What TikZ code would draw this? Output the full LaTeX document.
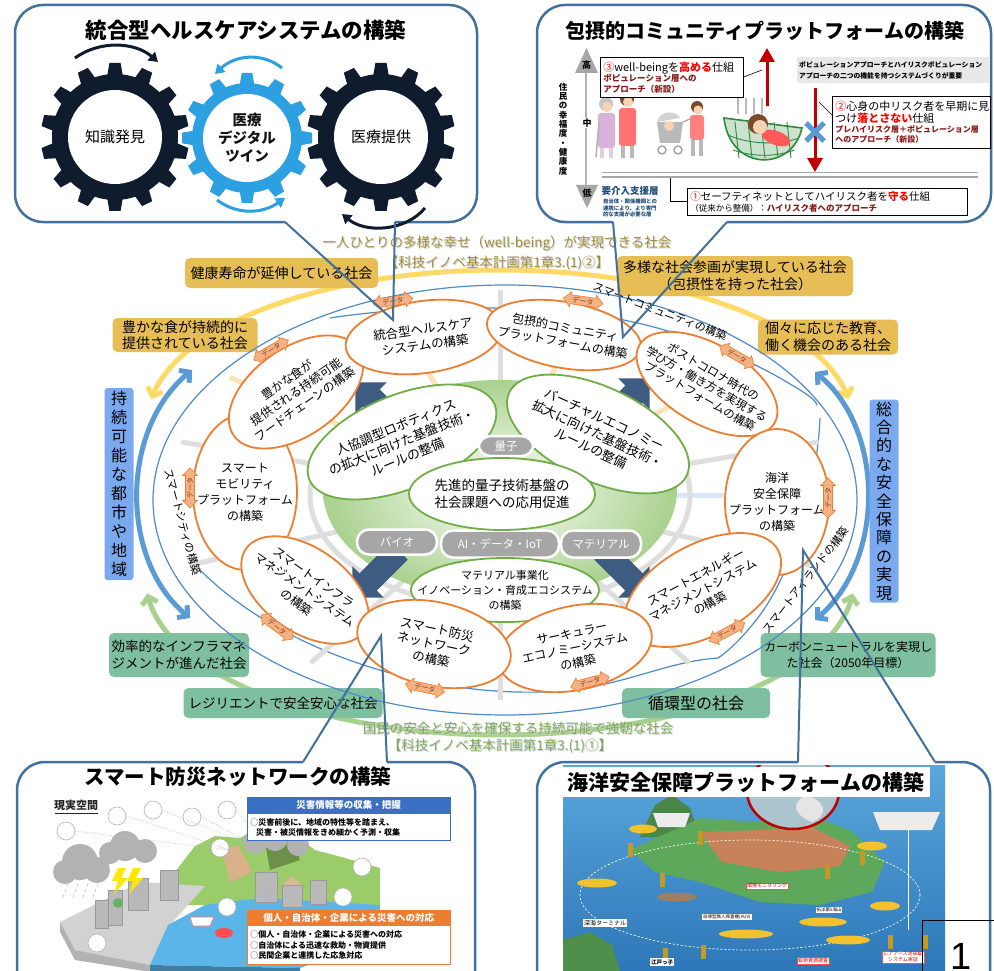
\documentclass[tikz,border=0pt]{standalone}
\usepackage{fontspec}
\setmainfont{Noto Sans CJK JP}
\newfontfamily\pagenumfont{Liberation Sans}
\usetikzlibrary{shapes.geometric,shapes.arrows,arrows.meta}

\definecolor{frameblue}{HTML}{41719C}
\definecolor{gearnavy}{HTML}{0F1C2E}
\definecolor{gearblue}{HTML}{2CA0E0}
\definecolor{arcyellow}{HTML}{FFD966}
\definecolor{arcgreen}{HTML}{A9D18E}
\definecolor{arcblue}{HTML}{5B9BD5}
\definecolor{labelyellow}{HTML}{E6BE55}
\definecolor{labelgreen}{HTML}{7DBF9E}
\definecolor{labelblue}{HTML}{7AA9F0}
\definecolor{thinblue}{HTML}{4F8BC9}
\definecolor{nodeorange}{HTML}{ED7D31}
\definecolor{nodegreen}{HTML}{70AD47}
\definecolor{tagfill}{HTML}{F4B183}
\definecolor{tagtext}{HTML}{843C0C}
\definecolor{chevblue}{HTML}{3E5C82}
\definecolor{pillgray}{HTML}{A6A6A6}
\definecolor{spokegray}{HTML}{DEDEDE}
\definecolor{spokebeige}{HTML}{FBE3BA}
\definecolor{spokeblue}{HTML}{DAE7FA}
\definecolor{olivetext}{HTML}{A08C3E}
\definecolor{greentext}{HTML}{7AA95A}
\definecolor{alertred}{HTML}{FF0000}
\definecolor{deepred}{HTML}{8B1A1A}
\definecolor{arrowred}{HTML}{C00000}
\definecolor{crossblue}{HTML}{5B9BD5}
\definecolor{supportblue}{HTML}{1F4E79}
\definecolor{skin}{HTML}{F6D3B5}
\definecolor{hair}{HTML}{7A4A2A}
\definecolor{netgreen}{HTML}{2E8B3E}
\definecolor{hillgreen}{HTML}{9ACD6A}
\definecolor{waterblue}{HTML}{5BB5E8}
\definecolor{oceantop}{HTML}{5AA7DC}
\definecolor{oceanbot}{HTML}{2D77B8}
\definecolor{islegreen}{HTML}{5DA85A}
\definecolor{islebrown}{HTML}{C8825A}
\definecolor{subyellow}{HTML}{F2C12E}
\definecolor{infoblue}{HTML}{3A6FC4}

\newcommand{\fsz}[2]{\fontsize{#1}{#2}\selectfont}

% gear: centre x, centre y, teeth, root radius, tip radius, tooth half width, colour
\newcommand{\drawcog}[7]{%
  \fill[#7] (#1,#2) circle[radius=#4];
  \foreach \k in {1,...,#3}{%
    \pgfmathsetmacro{\cogang}{360/#3*\k}%
    \fill[#7, rotate around={\cogang:(#1,#2)}]
      ({#1-#6},{#2-#4+3}) -- ({#1-0.7*#6},{#2-#5}) -- ({#1+0.7*#6},{#2-#5}) -- ({#1+#6},{#2-#4+3}) -- cycle;
  }%
}

% rotated ellipse with its label: style, name, x, y, rx, ry, angle, font, text
\newcommand{\ovalnode}[9]{%
  \path[#1, rotate around={#7:(#3,#4)}] (#3,#4) ellipse [x radius=#5, y radius=#6];
  \node[rotate=#7, align=center, inner sep=0pt, font=#8] (#2) at (#3,#4) {#9};}

\begin{document}
\begin{tikzpicture}[x=1pt,y=-1pt,
  every node/.style={font=\fsz{13}{16}},
  lbl/.style={rounded corners=5pt, inner sep=0pt, align=center},
  ylbl/.style={lbl, fill=labelyellow},
  glbl/.style={lbl, fill=labelgreen},
  blbl/.style={lbl, fill=labelblue, rounded corners=3pt},
  onode/.style={fill=white, draw=nodeorange, line width=1.8pt},
  gnode/.style={fill=white, draw=nodegreen, line width=1.8pt},
  datatag/.style={shape=double arrow, fill=tagfill, draw=nodeorange, line width=0.6pt, inner sep=1pt, minimum height=40pt, double arrow head extend=3pt, font=\fsz{7}{8}, text=tagtext},
  chev/.style={shape=single arrow, fill=chevblue, inner sep=12pt, single arrow head extend=10pt, minimum height=66pt},
  pillnode/.style={rounded corners=12pt, fill=pillgray, draw=white, line width=2.5pt, text=white, inner sep=0pt, font=\fsz{11.5}{13}},
  calloutframe/.style={frameblue, line width=2.5pt, rounded corners=28pt},
  calloutptr/.style={frameblue, line width=2pt},
  bandtext/.style={font=\fsz{11}{13}},
  bigarc/.style={line width=5pt, {Straight Barb[length=7pt,width=16pt]}-{Straight Barb[length=7pt,width=16pt]}},
  infobox/.style={draw, line width=0.7pt, fill=white, anchor=north west, align=left, inner xsep=3pt, inner ysep=1.5pt},
  mapnote/.style={fill=white, draw=red!70, line width=0.4pt, inner sep=1pt, text=red!80!black, font=\fsz{5}{6}, align=center},
]
\useasboundingbox (0,0) rectangle (994,971);
\fill[white] (0,0) rectangle (994,971);

% ---------- society arcs ----------
\draw[arcyellow, bigarc] plot[smooth, domain=-172:-8, samples=60] ({500+352*cos(\x)},{420+150*sin(\x)});
\draw[arcgreen, bigarc] plot[smooth, domain=175:5, samples=60] ({500+354*cos(\x)},{580+155*sin(\x)});
\draw[arcblue, bigarc] (192,370) .. controls (120,430) and (120,560) .. (190,618);
\draw[arcblue, bigarc] (815,372) .. controls (885,430) and (885,560) .. (815,620);

% ---------- society labels ----------
\node[ylbl, minimum width=193pt, minimum height=30pt, font=\fsz{14}{17}] (lhealth) at (281.5,273) {健康寿命が延伸している社会};
\node[ylbl, minimum width=145pt, minimum height=34pt, font=\fsz{14}{16}] (lfood) at (185,335) {豊かな食が持続的に\\提供されている社会};
\node[ylbl, minimum width=236pt, minimum height=40pt, font=\fsz{14}{17}] (lsanka) at (735,276) {多様な社会参画が実現している社会\\（包摂性を持った社会）};
\node[ylbl, minimum width=140pt, minimum height=35pt, font=\fsz{14}{17}] (ledu) at (828,337) {個々に応じた教育、\\働く機会のある社会};
\node[blbl, minimum width=29pt, minimum height=192pt, font=\fsz{16}{19}] (lcity) at (119,484) {持\\続\\可\\能\\な\\都\\市\\や\\地\\域};
\node[blbl, minimum width=29pt, minimum height=203pt, font=\fsz{16}{18.4}] (lsec) at (884,501) {総\\合\\的\\な\\安\\全\\保\\障\\の\\実\\現};
\node[glbl, minimum width=140pt, minimum height=44pt, font=\fsz{13.5}{17}] (linfra) at (179,655) {効率的なインフラマネ\\ジメントが進んだ社会};
\node[glbl, minimum width=199pt, minimum height=30pt, font=\fsz{13.5}{16}] (lresil) at (283,703) {レジリエントで安全安心な社会};
\node[glbl, minimum width=148pt, minimum height=30pt, font=\fsz{16}{18}] (lcirc) at (696,703) {循環型の社会};
\node[glbl, minimum width=175pt, minimum height=44pt, font=\fsz{12}{16}] (lcarbon) at (848,655) {カーボンニュートラルを実現し\\た社会（2050年目標）};

% ---------- headline texts ----------
\node[text=gray!35, font=\fsz{13.5}{16}] (wellShadow) at (498,244) {一人ひとりの多様な幸せ（well-being）が実現できる社会};
\node[text=olivetext, font=\fsz{13.5}{16}] (wellText) at (497,243) {一人ひとりの多様な幸せ（well-being）が実現できる社会};
\node[text=gray!35, font=\fsz{13.5}{16}] (wellRefShadow) at (498,264) {【科技イノベ基本計画第1章3.(1)②】};
\node[text=olivetext, font=\fsz{13.5}{16}] (wellRef) at (497,263) {【科技イノベ基本計画第1章3.(1)②】};
\node[text=gray!35, font=\fsz{13.5}{16}] (safeShadow) at (519,729) {国民の安全と安心を確保する持続可能で強靭な社会};
\node[text=greentext, font=\fsz{13.5}{16}] (safeText) at (518,728) {国民の安全と安心を確保する持続可能で強靭な社会};
\node[text=gray!35, font=\fsz{13.5}{16}] (safeRefShadow) at (501,747) {【科技イノベ基本計画第1章3.(1)①】};
\node[text=greentext, font=\fsz{13.5}{16}] (safeRef) at (500,746) {【科技イノベ基本計画第1章3.(1)①】};

% ---------- smart community / city / island bands ----------
\draw[thinblue, line width=1.2pt] (505,500) ellipse [x radius=352, y radius=215];
\draw[thinblue, line width=1.2pt] (330,318) .. controls (420,304) and (540,305) .. (613,318) .. controls (670,328) and (730,350) .. (780,378) .. controls (800,390) and (815,398) .. (817,405);
\draw[thinblue, line width=1.2pt] (820,418) .. controls (818,470) and (800,560) .. (760,615) .. controls (745,635) and (730,650) .. (718,658);
\draw[thinblue, line width=1.2pt] (718,658) .. controls (660,662) and (620,690) .. (540,692) .. controls (420,695) and (280,650) .. (200,570);

% ---------- spokes and ring ----------
\foreach \a/\c in {90/spokegray, 15/spokegray, 0/spokeblue, -20/spokegray, -55/spokegray, -90/spokegray, -125/spokegray, -160/spokegray, 165/spokegray, 40/spokebeige, 75/spokebeige, 110/spokebeige, 145/spokebeige}
  \draw[\c, line width=5pt] (500,495) -- ({500+330*cos(\a)},{495-205*sin(\a)});
\draw[spokegray, line width=5pt] (500,495) ellipse [x radius=190, y radius=112];
\shade[inner color=white, outer color=arcgreen] (500,490) ellipse [x radius=177, y radius=110];

% ---------- cycle arrows ----------
\node[chev, rotate=135] (chevUL) at (383,410) {};
\node[chev, rotate=45] (chevUR) at (622,406) {};
\node[chev, rotate=-135] (chevLL) at (380,570) {};
\node[chev, rotate=-45] (chevLR) at (622,570) {};

% ---------- technology pills ----------
\node[pillnode, minimum width=80pt, minimum height=25pt] (pBio) at (397,542) {バイオ};
\node[pillnode, minimum width=118pt, minimum height=27pt] (pAI) at (500,544) {AI・データ・IoT};
\node[pillnode, minimum width=80pt, minimum height=27pt] (pMat) at (601,544) {マテリアル};

% ---------- foundation technologies ----------
\ovalnode{gnode}{gRobot}{402}{442}{100}{47}{22}{\fsz{13}{16}}{人協調型ロボティクス\\の拡大に向けた基盤技術・\\ルールの整備}
\ovalnode{gnode}{gVirtual}{598}{434}{98}{47}{-25}{\fsz{13}{16}}{バーチャルエコノミー\\拡大に向けた基盤技術・\\ルールの整備}
\node[pillnode, minimum width=55pt, minimum height=20pt] (pQuantum) at (506,446) {量子};
\ovalnode{gnode}{gQuantum}{502}{494}{93}{36}{0}{\fsz{13.5}{17}}{先進的量子技術基盤の\\社会課題への応用促進}
\ovalnode{gnode}{gMaterial}{505}{590}{94}{32}{0}{\fsz{11}{15}}{マテリアル事業化\\イノベーション・育成エコシステム\\の構築}

% ---------- platforms ----------
\ovalnode{onode}{oMobility}{245}{492}{52}{78}{0}{\fsz{12}{16}}{スマート\\モビリティ\\プラットフォーム\\の構築}
\ovalnode{onode}{oInfra}{305}{590}{72}{42}{-35}{\fsz{12}{15}}{スマートインフラ\\マネジメントシステム\\の構築}
\ovalnode{onode}{oFood}{296}{392}{76}{44}{35}{\fsz{12}{15}}{豊かな食が\\提供される持続可能\\フードチェーンの構築}
\ovalnode{onode}{oHealth}{424}{337}{79}{36}{8}{\fsz{12.5}{16}}{統合型ヘルスケア\\システムの構築}
\ovalnode{onode}{oInclusive}{564}{335}{78}{33}{-10}{\fsz{12}{15}}{包摂的コミュニティ\\プラットフォームの構築}
\ovalnode{onode}{oPostCovid}{707}{384}{78}{40}{-30}{\fsz{11.5}{14}}{ポストコロナ時代の\\学び方・働き方を実現する\\プラットフォームの構築}
\ovalnode{onode}{oOcean}{777}{502}{52}{73}{0}{\fsz{12}{16}}{海洋\\安全保障\\プラットフォーム\\の構築}
\ovalnode{onode}{oEnergy}{703}{590}{85}{46}{28}{\fsz{12}{15}}{スマートエネルギー\\マネジメントシステム\\の構築}
\ovalnode{onode}{oCircular}{575}{648}{78}{42}{12}{\fsz{12}{15}}{サーキュラー\\エコノミーシステム\\の構築}
\ovalnode{onode}{oDisaster}{434}{644}{78}{42}{-12}{\fsz{12.5}{15}}{スマート防災\\ネットワーク\\の構築}

% ---------- data exchange tags ----------
\node[datatag, rotate=8] (t1) at (393,301) {データ};
\node[datatag, rotate=-8] (t2) at (583,301) {データ};
\node[datatag, rotate=30] (t3) at (271,350) {データ};
\node[datatag, rotate=90] (t4) at (190,488) {データ};
\node[datatag, rotate=-30] (t5) at (737,356) {データ};
\node[datatag, rotate=90] (t6) at (828,498) {データ};
\node[datatag, rotate=-37] (t7) at (277,627) {データ};
\node[datatag, rotate=-12] (t8) at (425,688) {データ};
\node[datatag, rotate=15] (t9) at (590,682) {データ};
\node[datatag, rotate=28] (t10) at (727,632) {データ};

% ---------- band captions ----------
\node[bandtext, rotate=-21] (bandComm) at (660,311) {スマートコミュニティの構築};
\node[bandtext, rotate=-75] (bandCity) at (183,522) {スマートシティの構築};
\node[bandtext, rotate=52] (bandIsle) at (806,580) {スマートアイランドの構築};

% =====================================================
% callout: integrated healthcare
% =====================================================
\fill[white, rounded corners=28pt] (15,5) rectangle (477,222);
\draw[calloutframe] (395,222) -- (477,222) -- (477,5) -- (15,5) -- (15,222) -- (285,222);
\node[font=\fsz{21.5}{24}\bfseries] (hcTitle) at (246,30) {統合型ヘルスケアシステムの構築};
\drawcog{115}{137}{14}{63}{74}{8}{gearnavy}
\drawcog{381}{137}{14}{63}{74}{8}{gearnavy}
\drawcog{247}{138}{12}{55}{65}{7.5}{gearblue}
\fill[white] (115,137) circle[radius=47];
\fill[white] (381,137) circle[radius=47];
\fill[white] (247,138) circle[radius=44];
\node[font=\fsz{15}{18}] (gearKnow) at (115,137) {知識発見};
\node[align=center, font=\fsz{14.5}{18}\bfseries, text=gray!15!black] (gearTwin) at (247,138) {医療\\デジタル\\ツイン};
\node[font=\fsz{15}{18}] (gearCare) at (381,137) {医療提供};
\draw[gearnavy, line width=3pt, -{Triangle[length=9pt,width=11pt]}] (75,58) .. controls (100,40) and (135,42) .. (158,62);
\draw[gearblue, line width=3pt, -{Triangle[length=9pt,width=11pt]}] (282,68) .. controls (262,52) and (235,55) .. (215,74);
\draw[gearblue, line width=3pt, -{Triangle[length=9pt,width=11pt]}] (217,200) .. controls (237,215) and (262,214) .. (285,198);
\draw[gearnavy, line width=3pt, -{Triangle[length=9pt,width=11pt]}] (425,208) .. controls (405,232) and (365,233) .. (342,214);

% =====================================================
% callout: inclusive community platform
% =====================================================
\fill[white, rounded corners=28pt] (537,5) rectangle (991,222);
\draw[calloutframe] (727,222) -- (991,222) -- (991,5) -- (537,5) -- (537,222) -- (613,222);
\node[font=\fsz{20}{23}\bfseries] (icTitle) at (765,31) {包摂的コミュニティプラットフォームの構築};
% wellbeing axis
\draw[gray!60, line width=1.5pt] (586,73) -- (586,185);
\fill[pillgray] (575,73) -- (598,73) -- (586.5,48) -- cycle;
\fill[pillgray] (576,185) -- (598,185) -- (587,208) -- cycle;
\node[font=\fsz{9}{10}\bfseries] (axHigh) at (586.5,65) {高};
\node[font=\fsz{9}{10}\bfseries, fill=white, inner sep=1pt] (axMid) at (587,123) {中};
\node[font=\fsz{9}{10}\bfseries] (axLow) at (587,193) {低};
\node[font=\fsz{8.5}{9.3}\bfseries, align=center] (axTitle) at (563,129) {住\\民\\の\\幸\\福\\度\\・\\健\\康\\度};
% residents
\fill[gray!45] (606,104) circle[radius=7];
\fill[skin] (607,107) circle[radius=5];
\fill[violet!30, rounded corners=3pt] (598,113) rectangle (615,148);
\fill[violet!20] (600,148) rectangle (604,158);
\fill[violet!20] (609,148) rectangle (613,158);
\draw[gray!60, line width=1.5pt] (599,122) -- (596,157);
\fill[hair] (627,99) circle[radius=7];
\fill[skin] (628,102) circle[radius=5];
\fill[red!55, rounded corners=3pt] (619,108) rectangle (636,146);
\fill[gray!55] (621,146) rectangle (625,158);
\fill[gray!55] (630,146) rectangle (634,158);
\fill[gray!55] (657,122) -- (683,122) -- (680,143) -- (660,143) -- cycle;
\fill[gray!35] (657,122) .. controls (660,110) and (675,110) .. (680,118) -- cycle;
\fill[skin] (669,126) circle[radius=5];
\draw[gray!70, line width=1.5pt] (662,150) circle[radius=4] (678,150) circle[radius=4];
\draw[gray!70, line width=1.2pt] (683,122) -- (692,118);
\fill[hair] (697,107) circle[radius=6];
\fill[skin] (698,110) circle[radius=4.5];
\fill[red!50, rounded corners=3pt] (690,115) rectangle (704,140);
\fill[gray!55] (691,140) rectangle (695,156);
\fill[gray!55] (699,140) rectangle (703,156);
% safety net
\foreach \x in {738,746,754,762}
  \draw[gray!55, line width=1.2pt] (\x,98) -- (\x,114);
\draw[netgreen, line width=1.6pt, fill=netgreen!25] (724,118) .. controls (730,172) and (792,172) .. (802,128) -- cycle;
\foreach \x in {735,748,761,774,787}
  \draw[netgreen, line width=0.9pt] (\x,122) -- (\x+4,158);
\draw[netgreen, line width=0.9pt] (728,135) .. controls (750,145) and (780,145) .. (799,138);
\draw[netgreen, line width=0.9pt] (733,150) .. controls (755,158) and (780,156) .. (794,150);
\fill[red!65, rotate around={-20:(776,138)}] (776,138) ellipse [x radius=15, y radius=7];
\fill[hair] (758,124) circle[radius=10];
\fill[skin] (760,127) circle[radius=7];
% approaches
\node[infobox, minimum width=143pt, minimum height=40pt, text width=137pt, font=\fsz{8.5}{10.5}] (boxWell) at (600,57)
  {{\fsz{11}{13}\textcolor{alertred}{③}well-beingを\textcolor{alertred}{\bfseries 高める}仕組}\\{\bfseries\color{deepred}ポピュレーション層への}\\{\bfseries\color{deepred}アプローチ（新設）}};
\draw[arrowred, line width=3pt, -{Triangle[length=14pt,width=15pt]}] (767,106) -- (767,48);
\coordinate (upArrowSide) at (762,70);
\draw[line width=0.6pt] (boxWell.east |- 0,77) -- (upArrowSide);
\node[fill=gray!18, anchor=north west, minimum width=193pt, minimum height=26pt, text width=189pt, align=left, inner sep=2pt, font=\fsz{6.8}{11}\bfseries] (boxNote) at (797,57)
  {ポピュレーションアプローチとハイリスクポピュレーション\\アプローチの二つの機能を持つシステムづくりが重要};
\draw[arrowred, line width=3pt, -{Triangle[length=14pt,width=15pt]}] (815,88) -- (815,172);
\draw[crossblue, line width=5pt] (806,123) -- (824,141) (806,141) -- (824,123);
\node[infobox, minimum width=158pt, minimum height=52pt, text width=152pt, font=\fsz{8}{10}] (boxMid) at (832,96)
  {{\fsz{11}{13}\textcolor{alertred}{②}心身の中リスク者を早期に見}\\{\fsz{11}{13}つけ\textcolor{alertred}{\bfseries 落とさない}仕組}\\{\bfseries\color{deepred}プレハイリスク層＋ポピュレーション層}\\{\bfseries\color{deepred}へのアプローチ（新設）}};
\coordinate (downArrowSide) at (819,102);
\draw[line width=0.6pt] (boxMid.west |- 0,115) -- (downArrowSide);
\draw[gray!70, line width=1.2pt] (602,172.5) -- (978,172.5) (602,177) -- (978,177);
\node[infobox, minimum width=280pt, minimum height=27pt, text width=274pt, font=\fsz{8.5}{10.5}] (boxSafety) at (687,188)
  {{\fsz{10.5}{12.5}\textcolor{alertred}{①}セーフティネットとしてハイリスク者を\textcolor{alertred}{\bfseries 守る}仕組}\\（従来から整備）：{\bfseries\color{deepred}ハイリスク者へのアプローチ}};
\coordinate (netLine) at (670,178);
\draw[line width=0.8pt] (netLine) |- (boxSafety.west |- 0,201);
\node[font=\fsz{9.5}{11}\bfseries, text=supportblue] (supTitle) at (630,191) {要介入支援層};
\node[font=\fsz{5.4}{6.8}\bfseries, text=supportblue, align=left] (supText) at (630,208) {自治体・関係機関との\\連携により、より専門\\的な支援が必要な層};

% =====================================================
% callout: smart disaster-prevention network
% =====================================================
\fill[white, rounded corners=28pt] (17,762) rectangle (475,1010);
\draw[calloutframe] (387,762) -- (475,762) -- (475,1010);
\draw[calloutframe] (303,762) -- (17,762) -- (17,1010);
\node[font=\fsz{20.5}{23}\bfseries] (dpTitle) at (238,777) {スマート防災ネットワークの構築};
% landscape
\fill[hillgreen] (175,872) -- (195,846) -- (215,836) -- (240,838) -- (262,826) -- (290,832) -- (315,850) -- (345,858) -- (380,868) -- (380,905) -- (175,905) -- cycle;
\fill[hillgreen!70!black] (262,826) -- (290,832) -- (300,860) -- (270,870) -- cycle;
\fill[brown!60] (222,850) -- (238,845) -- (252,872) -- (230,882) -- cycle;
\fill[gray!35] (60,922) -- (140,882) -- (205,886) -- (170,925) -- (150,965) -- (75,950) -- cycle;
\fill[gray!60] (60,922) -- (75,950) -- (75,960) -- (60,932) -- cycle;
\fill[gray!60] (75,950) -- (150,965) -- (150,972) -- (75,960) -- cycle;
\fill[waterblue] (150,965) -- (168,925) -- (205,905) -- (260,898) -- (330,902) -- (380,905) -- (380,940) -- (300,968) -- cycle;
\fill[waterblue!70!black] (150,965) -- (300,968) -- (300,972) -- (150,972) -- cycle;
\foreach \bx/\by/\bw/\bh in {95/900/13/28, 108/890/14/35, 128/878/20/32, 160/870/18/30, 255/872/22/30, 282/885/20/22, 310/880/16/24}
  \fill[gray!55, draw=gray!80, line width=0.4pt] (\bx,\by) rectangle ++(\bw,\bh);
\fill[brown!55] (282,885) -- (292,876) -- (302,885) -- cycle;
\foreach \cx/\cy/\cr in {80/862/18, 65/872/12, 97/870/13, 125/846/15, 145/851/12, 110/853/11, 255/842/12, 275/838/13, 298/845/11}
  \fill[gray!60] (\cx,\cy) circle[radius=\cr];
\foreach \rx in {70,80,90,100,135,145,260,272,284}
  \draw[gray!60, line width=0.5pt, dashed] (\rx,878) -- (\rx-8,900);
\fill[yellow!90!orange] (118,868) -- (126,868) -- (121,878) -- (128,878) -- (114,894) -- (118,881) -- (112,881) -- cycle;
\fill[yellow!90!orange] (133,868) -- (141,868) -- (136,878) -- (143,878) -- (129,894) -- (133,881) -- (127,881) -- cycle;
\fill[green!50!black!60] (118,903) circle[radius=5];
\fill[white, draw=red!60, line width=0.6pt] (190,917) -- (214,917) -- (210,926) -- (193,926) -- cycle;
\fill[red!70] (224,933) ellipse [x radius=9, y radius=5];
\foreach \ix/\iy in {66/831, 117/816, 153/810, 192/817, 227/810, 220/848, 227/907, 362/867, 343/897, 97/943}
  \draw[gray!60, fill=white, line width=0.6pt] (\ix,\iy) circle[radius=9];
\draw[gray!50, dotted, line width=0.8pt] (75,831) -- (230,850) (126,816) -- (230,850) (162,810) -- (250,845) (201,817) -- (255,845) (236,810) -- (262,840);
\node[font=\fsz{11}{12}\bfseries, text=gray!30!black] (realSpace) at (76,805) {現実空間};
\draw[gray!30!black, line width=0.6pt] (55,813) -- (98,813);
% information panels
\node[fill=infoblue, draw=infoblue, minimum width=203pt, minimum height=16pt, inner sep=0pt, text=white, font=\fsz{9.5}{11}\bfseries, anchor=north west] (collectHead) at (247,797) {災害情報等の収集・把握};
\node[fill=white, draw=infoblue, line width=0.8pt, minimum width=203pt, minimum height=27pt, inner sep=2pt, text width=197pt, align=left, font=\fsz{8}{10.5}\bfseries, anchor=north west] (collectBody) at (collectHead.south west) {◌災害前後に、地域の特性等を踏まえ、\\\hspace*{0.7em}災害・被災情報をきめ細かく予測・収集};
\node[fill=nodeorange, draw=nodeorange, minimum width=203pt, minimum height=15pt, inner sep=0pt, text=white, font=\fsz{9.5}{11}\bfseries, anchor=north west] (respondHead) at (247,910) {個人・自治体・企業による災害への対応};
\node[fill=white, draw=nodeorange, line width=0.8pt, minimum width=203pt, minimum height=39pt, inner sep=2pt, text width=197pt, align=left, font=\fsz{8}{10.5}\bfseries, anchor=north west] (respondBody) at (respondHead.south west) {◌個人・自治体・企業による災害への対応\\◌自治体による迅速な救助・物資提供\\◌民間企業と連携した応急対応};

% =====================================================
% callout: maritime security platform
% =====================================================
\fill[white, rounded corners=28pt] (537,762) rectangle (990,1010);
\draw[calloutframe] (935,762) -- (990,762) -- (990,1010);
\draw[calloutframe] (798,762) -- (537,762) -- (537,1010);
\begin{scope}
\clip (563,765) rectangle (945,971);
\shade[top color=oceantop, bottom color=oceanbot] (563,765) rectangle (945,971);
\fill[islegreen!80!black] (640,837) -- (655,805) -- (672,795) -- (690,808) -- (700,837) -- cycle;
\fill[islegreen] (630,850) -- (700,818) -- (760,822) -- (800,812) -- (850,830) -- (885,862) -- (872,892) -- (820,905) -- (760,902) -- (700,882) -- (655,872) -- cycle;
\fill[islebrown] (700,832) -- (760,830) -- (810,826) -- (850,846) -- (840,866) -- (780,872) -- (722,862) -- cycle;
\fill[islegreen!85!black] (563,940) -- (590,932) -- (612,945) -- (620,971) -- (563,971) -- cycle;
\draw[white, dash pattern=on 2pt off 2pt, line width=0.7pt] (750,895) ellipse [x radius=170, y radius=55];
\draw[red!75!black, line width=2.5pt, fill=cyan!30!gray!60] (793,791) ellipse [x radius=46, y radius=38];
\fill[gray!20] (805,795) .. controls (825,800) and (830,815) .. (812,822) .. controls (795,815) and (790,805) .. cycle;
\fill[gray!15] (653,813) -- (690,813) -- (685,827) -- (658,827) -- cycle;
\fill[gray!15] (873,812) -- (940,812) -- (932,830) -- (880,830) -- cycle;
\draw[white, line width=1pt] (908,830) -- (908,930);
\foreach \sx/\sy/\sw/\sc in {597/883/20/subyellow, 677/897/20/gray!55!brown, 746/934/27/subyellow, 823/922/24/subyellow, 848/940/22/subyellow, 885/906/15/subyellow, 643/829/14/subyellow, 872/846/15/subyellow}
  \fill[\sc] (\sx,\sy) ellipse [x radius=\sw, y radius=4.5];
\foreach \px/\py in {630/850, 662/880, 700/838, 827/872, 862/858, 665/955, 703/952, 890/942, 925/942}
  \fill[subyellow!80!black] (\px-2.5,\py-7) rectangle (\px+2.5,\py+7);
\end{scope}
\node[mapnote] (mapMonitor) at (767,886) {環境モニタリング};
\node[fill=white, inner sep=1pt, font=\fsz{6}{7}, align=center] (mapTerminal) at (605,923) {深海ターミナル};
\node[fill=white, inner sep=1pt, font=\fsz{4.5}{5.5}, align=center] (mapAUV) at (727,917) {自律型無人探査機(AUV)};
\node[fill=white, inner sep=0.8pt, font=\fsz{4.5}{5.5}] (mapSeamount) at (829,910) {拓洋第5海山};
\node[mapnote] (mapMineral) at (813,961) {鉱物資源調査};
\node[mapnote] (mapRareEarth) at (903,957) {レアアース泥採鉱\\システム実証};
\node[fill=white, inner sep=1pt, font=\fsz{5.5}{6.5}\bfseries] (mapEdokko) at (662,962) {江戸っ子};
\node[fill=white, minimum width=367pt, minimum height=30pt, inner sep=0pt, font=\fsz{21}{24}\bfseries] (msTitle) at (746,782) {海洋安全保障プラットフォームの構築};

% page number
\coordinate (pnCorner) at (922,920);
\coordinate (pnRight) at (994,920);
\coordinate (pnBottom) at (922,971);
\draw[black, line width=0.8pt] (pnRight) -- (pnCorner) -- (pnBottom);
\node[font=\pagenumfont\fontsize{38}{40}\selectfont] (pageNum) at (961,956) {1};

% ---------- callout pointers ----------
\coordinate (hcL) at (285,222);
\coordinate (hcR) at (395,222);
\coordinate (hcTip) at (393,320);
\draw[calloutptr] (hcL) -- (hcTip) -- (hcR);
\coordinate (icL) at (613,222);
\coordinate (icR) at (727,222);
\coordinate (icTip) at (623,337);
\draw[calloutptr] (icL) -- (icTip) -- (icR);
\coordinate (dpL) at (303,762);
\coordinate (dpR) at (387,762);
\coordinate (dpTip) at (381,636);
\draw[calloutptr] (dpL) -- (dpTip) -- (dpR);
\coordinate (msL) at (798,762);
\coordinate (msR) at (935,762);
\coordinate (msTip) at (803,550);
\draw[calloutptr] (msL) -- (msTip) -- (msR);
\end{tikzpicture}
\end{document}
